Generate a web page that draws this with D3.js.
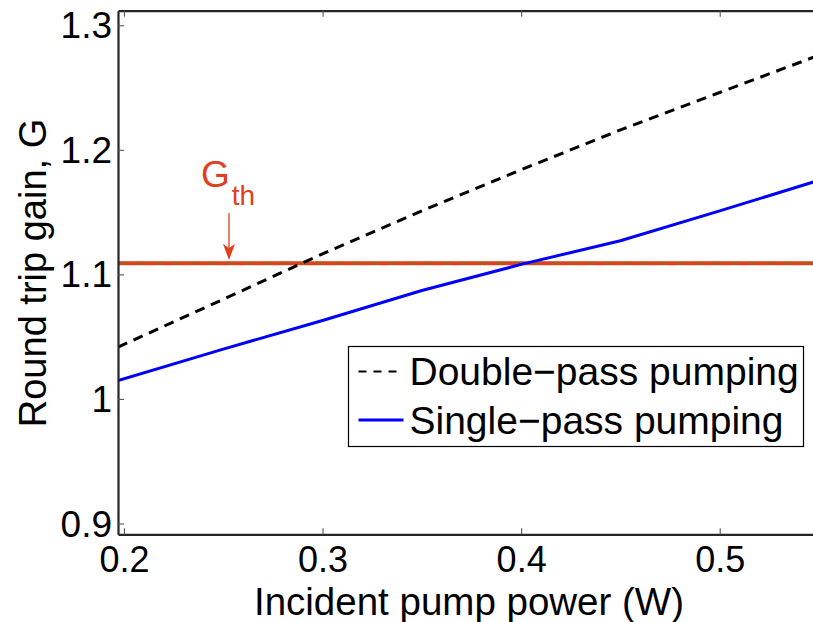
<!DOCTYPE html>
<html>
<head>
<meta charset="utf-8">
<script src="https://cdn.jsdelivr.net/npm/d3@7"></script>
<style>
    body { margin: 0; background: #fff; }
    text { font-family: "Liberation Sans", Arial, Helvetica, sans-serif; }
</style>
</head>
<body>
<svg id="chart" width="813" height="622"></svg>
<script>
// values
const power = [0.197, 0.25, 0.3, 0.35, 0.4, 0.45, 0.5, 0.55];
const gainDouble = [1.0416, 1.080, 1.1165, 1.151, 1.184, 1.216, 1.246, 1.276];
const gainSingle = [1.0147, 1.040, 1.063, 1.087, 1.108, 1.127, 1.151, 1.1755];
const gainThreshold = 1.109;
const xTicks = [0.2, 0.3, 0.4, 0.5];
const yTicks = [0.9, 1, 1.1, 1.2, 1.3];
const seriesNames = ["Double\u2212pass pumping", "Single\u2212pass pumping"];

let svg = d3.select("#chart"),
    WIDTH = 813,
    HEIGHT = 622,
    MARGINS = { top: 10.7, right: -6, bottom: 87.7, left: 118 };

let x = d3.scaleLinear()
    .domain([0.197, 0.55])
    .range([MARGINS.left, WIDTH - MARGINS.right]);

let y = d3.scaleLinear()
    .domain([0.8913, 1.3117])
    .range([HEIGHT - MARGINS.bottom, MARGINS.top]);

let fmt = function(d){ return String(+d.toFixed(1)); };
let axisColor = "#262626";
let red = "#e0401b";

svg.append("rect").attr("width", WIDTH).attr("height", HEIGHT).attr("fill", "#fff");

svg.append("clipPath").attr("id", "plot-clip")
    .append("rect")
    .attr("x", MARGINS.left).attr("y", MARGINS.top)
    .attr("width", x.range()[1] - MARGINS.left)
    .attr("height", y.range()[0] - MARGINS.top);

let plot = svg.append("g").attr("clip-path", "url(#plot-clip)");

// threshold: red line with a brownish dashed line on top
plot.append("line")
    .attr("x1", x.range()[0]).attr("x2", x.range()[1])
    .attr("y1", y(gainThreshold)).attr("y2", y(gainThreshold))
    .attr("stroke", red).attr("stroke-width", 4);
plot.append("line")
    .attr("x1", x.range()[0]).attr("x2", x.range()[1])
    .attr("y1", y(gainThreshold)).attr("y2", y(gainThreshold))
    .attr("stroke", "#b4581f").attr("stroke-width", 2.6)
    .attr("stroke-dasharray", "10,8");

let line = d3.line()
    .x(function(d, i){ return x(power[i]); })
    .y(function(d){ return y(d); });

plot.append("path")
    .datum(gainDouble)
    .attr("d", line)
    .attr("fill", "none")
    .attr("stroke", "#000")
    .attr("stroke-width", 3)
    .attr("stroke-dasharray", "10,7");

plot.append("path")
    .datum(gainSingle)
    .attr("d", line)
    .attr("fill", "none")
    .attr("stroke", "#0000ff")
    .attr("stroke-width", 3);

// axes, MATLAB style with inward ticks
let bottomAxis = svg.append("g")
    .attr("transform", "translate(0," + y.range()[0] + ")")
    .call(d3.axisBottom(x).tickValues(xTicks).tickFormat(fmt)
        .tickSizeInner(-6).tickSizeOuter(0).tickPadding(12));

let topAxis = svg.append("g")
    .attr("transform", "translate(0," + MARGINS.top + ")")
    .call(d3.axisTop(x).tickValues(xTicks).tickFormat("")
        .tickSizeInner(-6).tickSizeOuter(0));

let leftAxis = svg.append("g")
    .attr("transform", "translate(" + MARGINS.left + ",0)")
    .call(d3.axisLeft(y).tickValues(yTicks).tickFormat(fmt)
        .tickSizeInner(-6).tickSizeOuter(0).tickPadding(6));

[bottomAxis, topAxis, leftAxis].forEach(function(a){
    a.select(".domain").attr("stroke", axisColor).attr("stroke-width", 2.2);
    a.selectAll(".tick line").attr("stroke", "#555").attr("stroke-width", 1.1);
    a.selectAll(".tick text")
        .attr("fill", "#000")
        .style("font-size", "36px");
});
leftAxis.selectAll(".tick text").attr("dy", "0.34em").style("font-size", "37px");
bottomAxis.selectAll(".tick text").attr("dy", "0.71em");

// axis titles
svg.append("text")
    .attr("x", 469).attr("y", 615)
    .attr("text-anchor", "middle")
    .style("font-size", "38.5px")
    .text("Incident pump power (W)");

svg.append("text")
    .attr("transform", "translate(46," + 273 + ") rotate(-90)")
    .attr("text-anchor", "middle")
    .style("font-size", "38px")
    .text("Round trip gain, G");

// G_th annotation
let gth = svg.append("text")
    .attr("x", 201).attr("y", 187)
    .attr("fill", red)
    .style("font-size", "37px");
gth.append("tspan").text("G");
gth.append("tspan")
    .attr("dx", 2).attr("dy", 18)
    .style("font-size", "28px")
    .text("th");

let ax = 229;
svg.append("line")
    .attr("x1", ax).attr("x2", ax)
    .attr("y1", 213).attr("y2", 248)
    .attr("stroke", red).attr("stroke-width", 1.3);
svg.append("path")
    .attr("d", d3.line()([[ax - 6, 244], [ax, 260], [ax + 6, 244], [ax, 248]]) + "Z")
    .attr("fill", red);

// legend
let legend = svg.append("g").attr("transform", "translate(348.5,346.5)");
legend.append("rect")
    .attr("width", 455).attr("height", 100)
    .attr("fill", "#fff").attr("stroke", "#000").attr("stroke-width", 1.2);

let styles = [
    { color: "#000", dash: "8,7" },
    { color: "#0000ff", dash: null }
];

let rows = legend.selectAll(".row")
    .data(seriesNames)
    .enter().append("g")
    .attr("class", "row")
    .attr("transform", function(d, i){ return "translate(0," + (25 + i * 48.5) + ")"; });

rows.append("line")
    .attr("x1", 10).attr("x2", 55)
    .attr("stroke", function(d, i){ return styles[i].color; })
    .attr("stroke-width", function(d, i){ return i ? 3 : 2.2; })
    .attr("stroke-dasharray", function(d, i){ return styles[i].dash; });

rows.append("text")
    .attr("x", 61).attr("dy", "0.35em")
    .style("font-size", "39px")
    .text(function(d){ return d; });
</script>
</body>
</html>
